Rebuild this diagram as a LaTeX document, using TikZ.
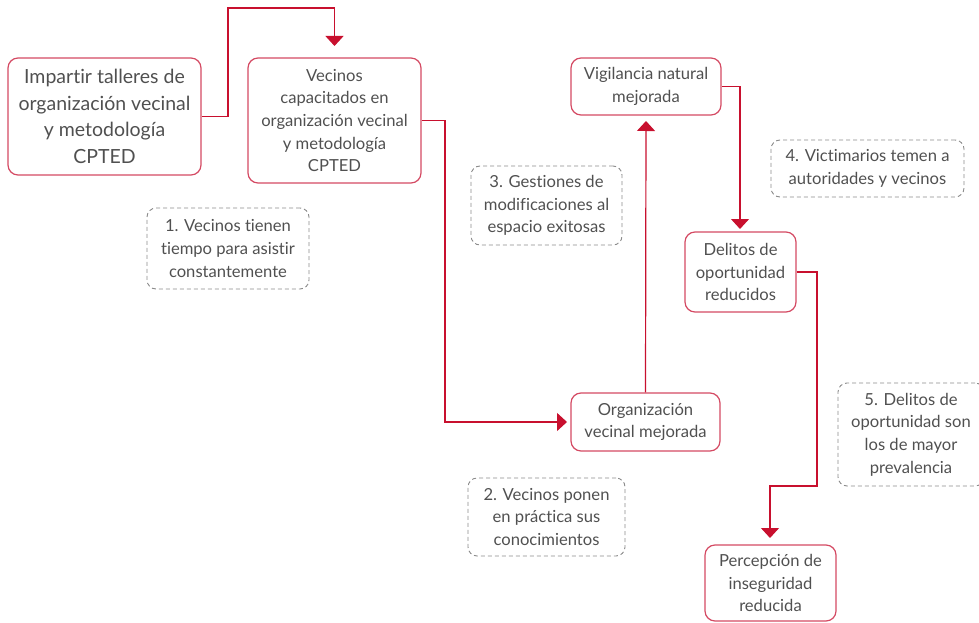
\documentclass[tikz,border=0pt]{standalone}
\usepackage{fontspec}
\setmainfont{Lato}[Ligatures={NoCommon}]
\usetikzlibrary{arrows.meta}
\definecolor{conn}{HTML}{C8102E}
\definecolor{boxline}{HTML}{D44A63}
\definecolor{txt}{HTML}{505050}
\definecolor{dashc}{HTML}{8A8A8A}
\tikzset{
  outbox/.style={draw=boxline, line width=1.2pt, rounded corners=10pt, align=center, text=txt, inner sep=0pt,
    font=\fontsize{16.6}{22.7}\selectfont},
  assum/.style={draw=dashc, dashed, dash pattern=on 4pt off 3pt, line width=0.9pt, rounded corners=9pt, align=center, text=txt, inner sep=0pt,
    font=\fontsize{16.6}{22.7}\selectfont},
  link/.style={draw=conn, line width=1.2pt, -{Triangle[width=18pt,length=10pt]}},
}
\begin{document}
\begin{tikzpicture}[x=1pt,y=-1pt]
\useasboundingbox (0,0) rectangle (979,623);
% outcome boxes (center, size)
\node[outbox, minimum width=193pt, minimum height=117pt, font=\fontsize{19.5}{26.5}\selectfont] (b1) at (104.5,116.5)
  {Impartir talleres de\\organización vecinal\\y metodología\\CPTED};
\node[outbox, minimum width=173pt, minimum height=125pt] (b2) at (334.5,120.5)
  {Vecinos\\capacitados en\\organización vecinal\\y metodología\\CPTED};
\node[outbox, minimum width=150pt, minimum height=57pt] (b3) at (646,86.5)
  {Vigilancia natural\\mejorada};
\node[outbox, minimum width=111pt, minimum height=80pt] (b4) at (740.5,272)
  {Delitos de\\oportunidad\\reducidos};
\node[outbox, minimum width=149pt, minimum height=58pt] (b5) at (645.5,422)
  {Organización\\vecinal mejorada};
\node[outbox, minimum width=131pt, minimum height=76pt] (b6) at (770.5,583)
  {Percepción de\\inseguridad\\reducida};
% assumptions
\node[assum, minimum width=162pt, minimum height=81pt] (a1) at (228,248.5)
  {1. Vecinos tienen\\tiempo para asistir\\constantemente};
\node[assum, minimum width=157pt, minimum height=78pt] (a2) at (546.5,517)
  {2. Vecinos ponen\\en práctica sus\\conocimientos};
\node[assum, minimum width=151pt, minimum height=79pt] (a3) at (546.5,205.5)
  {3. Gestiones de\\modificaciones al\\espacio exitosas};
\node[assum, minimum width=193pt, minimum height=57pt] (a4) at (867.5,168.5)
  {4. Victimarios temen a\\autoridades y vecinos};
\node[assum, minimum width=146pt, minimum height=103pt] (a5) at (911,434.5)
  {5. Delitos de\\oportunidad son\\los de mayor\\prevalencia};
% connectors
\coordinate (t2) at (334.5,46);
\coordinate (t5) at (567,422);
\coordinate (t3) at (646,121);
\coordinate (t4) at (740,229);
\coordinate (t6) at (770,538);
\draw[link] (b1.east) -| (228,8) -| (t2);
\draw[link] (b2.east) -| (445,422) -- (t5);
\draw[link] (b5.north) -- (t3);
\draw[link] (b3.east) -| (t4);
\draw[link] (b4.east) -| (817,486) -| (t6);
\end{tikzpicture}
\end{document}
